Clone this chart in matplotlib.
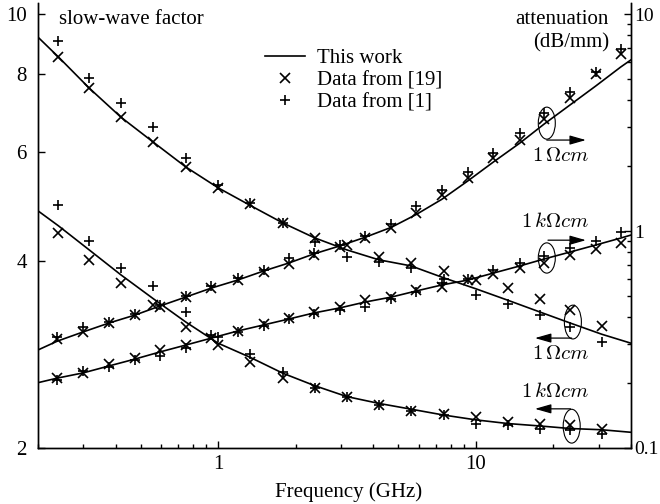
import matplotlib.pyplot as plt
from matplotlib.patches import Ellipse
from matplotlib.ticker import NullLocator

plt.rcParams['font.family'] = 'serif'
plt.rcParams['font.serif'] = ['Liberation Serif', 'DejaVu Serif']
plt.rcParams['mathtext.fontset'] = 'cm'
plt.rcParams['font.size'] = 15

# slow-wave factor (left axis) -- frequencies in GHz
sw_freq = [0.24, 0.316, 0.42, 0.56, 0.75, 1.0, 1.33, 1.78, 2.37, 3.16, 4.2, 5.6,
           7.5, 10.0, 13.3, 17.8, 23.2, 30.8]
sw_1ohm_ref19 = [8.53, 7.60, 6.82, 6.22, 5.67, 5.25, 4.94, 4.60, 4.36, 4.24, 4.06, 3.97,
                 3.86, 3.73, 3.62, 3.48, 3.34, 3.15]
sw_1ohm_ref1 = [9.04, 7.89, 7.19, 6.57, 5.86, 5.30, 4.96, 4.61, 4.29, 4.06, 3.99, 3.90,
                3.75, 3.53, 3.41, 3.27, 3.13, 2.96]
sw_1k_ref19 = [4.44, 4.01, 3.69, 3.40, 3.13, 2.93, 2.75, 2.59, 2.50, 2.42, 2.35, 2.29,
               2.27, 2.24, 2.20, 2.19, 2.18, 2.15]
sw_1k_ref1 = [4.92, 4.31, 3.90, 3.65, 3.31, 3.02, 2.83, 2.65, 2.50, 2.42, 2.35, 2.29,
              2.26, 2.19, 2.18, 2.15, 2.14, 2.11]

sw_fit_freq = [0.2, 0.24, 0.316, 0.42, 0.56, 0.75, 1.0, 1.33, 1.78, 2.37, 3.16, 4.2,
               5.6, 7.5, 10.0, 13.3, 17.8, 23.2, 30.8, 40.0]
sw_1ohm_fit = [9.18, 8.53, 7.60, 6.82, 6.22, 5.67, 5.25, 4.92, 4.61, 4.36, 4.17, 4.02,
               3.93, 3.76, 3.61, 3.46, 3.31, 3.18, 3.05, 2.95]
sw_1k_fit = [4.82, 4.56, 4.17, 3.80, 3.48, 3.19, 2.95, 2.80, 2.64, 2.52, 2.42, 2.36,
             2.31, 2.26, 2.22, 2.19, 2.17, 2.15, 2.14, 2.12]

# attenuation in dB/mm (right axis)
att_freq = [0.238, 0.300, 0.378, 0.476, 0.594, 0.748, 0.942, 1.19, 1.50, 1.88, 2.35,
            2.96, 3.73, 4.70, 5.86, 7.38, 9.30, 11.7, 14.8, 18.4, 23.2, 29.2, 36.5]
att_1ohm_ref19 = [0.318, 0.342, 0.377, 0.410, 0.446, 0.496, 0.546, 0.594, 0.647, 0.705,
                  0.775, 0.844, 0.929, 1.03, 1.21, 1.47, 1.75, 2.17, 2.63, 3.28, 4.10,
                  5.29, 6.54]
att_1ohm_ref1 = [0.325, 0.361, 0.381, 0.414, 0.456, 0.502, 0.558, 0.607, 0.661, 0.751,
                 0.792, 0.862, 0.948, 1.08, 1.30, 1.55, 1.87, 2.29, 2.83, 3.50, 4.37,
                 5.40, 6.90]
att_1k_ref19 = [0.210, 0.222, 0.244, 0.260, 0.283, 0.298, 0.321, 0.346, 0.373, 0.397,
                0.423, 0.446, 0.481, 0.496, 0.534, 0.552, 0.594, 0.634, 0.675, 0.712,
                0.775, 0.826, 0.881]
att_1k_ref1 = [0.206, 0.227, 0.237, 0.254, 0.265, 0.289, 0.332, 0.343, 0.365, 0.393,
               0.414, 0.432, 0.446, 0.486, 0.524, 0.576, 0.601, 0.661, 0.712, 0.767,
               0.835, 0.899, 0.989]

att_fit_freq = [0.2] + att_freq + [40.0]
att_1ohm_fit = [0.283, 0.311, 0.343, 0.377, 0.410, 0.451, 0.496, 0.546, 0.594, 0.654,
                0.712, 0.784, 0.853, 0.937, 1.04, 1.19, 1.40, 1.70, 2.08, 2.54, 3.11,
                3.81, 4.66, 5.70, 6.15]
att_1k_fit = [0.200, 0.210, 0.222, 0.239, 0.257, 0.277, 0.298, 0.321, 0.346, 0.369,
              0.393, 0.419, 0.442, 0.471, 0.496, 0.529, 0.564, 0.594, 0.640, 0.690,
              0.743, 0.800, 0.862, 0.928, 0.958]

fig = plt.figure(figsize=(6.6, 5.04), dpi=100)
ax = fig.add_axes([38/660, 56/504, 593/660, 445/504])
ax2 = ax.twinx()

mk = dict(ls='none', color='k', ms=7, mew=1.2)
ln = dict(color='k', lw=1.2)

ax.plot(sw_fit_freq, sw_1ohm_fit, label='This work', **ln)
ax.plot(sw_fit_freq, sw_1k_fit, **ln)
ax.plot(sw_freq, sw_1ohm_ref19, marker='x', label='Data from [19]', **mk)
ax.plot(sw_freq, sw_1ohm_ref1, marker='+', label='Data from [1]', **mk)
ax.plot(sw_freq, sw_1k_ref19, marker='x', **mk)
ax.plot(sw_freq, sw_1k_ref1, marker='+', **mk)

ax2.plot(att_fit_freq, att_1ohm_fit, **ln)
ax2.plot(att_fit_freq, att_1k_fit, **ln)
ax2.plot(att_freq, att_1ohm_ref19, marker='x', **mk)
ax2.plot(att_freq, att_1ohm_ref1, marker='+', **mk)
ax2.plot(att_freq, att_1k_ref19, marker='x', **mk)
ax2.plot(att_freq, att_1k_ref1, marker='+', **mk)

ax.set_xscale('log')
ax.set_yscale('log')
ax2.set_yscale('log')
ax.set_xlim(0.2, 40)
ax.set_ylim(2, 10.42)
ax2.set_ylim(0.1, 11.24)

ax.set_xticks([1, 10], labels=['1', '10'])
ax.set_yticks([2, 4, 6, 8, 10], labels=['2', '4', '6', '8', '10'])
ax.yaxis.set_minor_locator(NullLocator())
ax2.set_yticks([0.1, 1, 10], labels=['0.1', '1', '10'])

ax.tick_params(which='both', direction='in', top=False, right=False, width=1)
ax.tick_params(axis='y', which='major', length=5, pad=8)
ax.tick_params(axis='x', which='major', length=5, pad=5)
ax.tick_params(axis='x', which='minor', length=3)
ax2.tick_params(which='both', direction='in', width=1, pad=2, labelsize=14)
ax2.tick_params(which='major', length=5)
ax2.tick_params(which='minor', length=3)

for a in (ax, ax2):
    a.spines['top'].set_visible(False)
    for s in ('left', 'right', 'bottom'):
        a.spines[s].set_linewidth(1.0)

ax.set_xlabel('Frequency (GHz)')
ax.xaxis.set_label_coords(0.524, -0.078)

ax.text(0.035, 0.962, 'slow-wave factor', transform=ax.transAxes, ha='left', va='center')
ax.text(0.963, 0.962, 'attenuation', transform=ax.transAxes, ha='right', va='center')
ax.text(0.963, 0.911, '(dB/mm)', transform=ax.transAxes, ha='right', va='center')

ax.legend(loc='upper left', bbox_to_anchor=(0.383, 0.897), frameon=False,
          borderpad=0, borderaxespad=0, handlelength=1.9, handletextpad=0.6,
          labelspacing=0.12, fontsize=15)

# ellipses, arrows and resistivity labels (axes fraction)
notes = [
    ((0.858, 0.730), 0.072, (0.858, 0.692), (0.924, 0.692), (0.882, 0.654), r'$1\,\Omega cm$'),
    ((0.858, 0.427), 0.068, (0.860, 0.467), (0.924, 0.467), (0.872, 0.506), r'$1\,k\Omega cm$'),
    ((0.902, 0.283), 0.076, (0.900, 0.247), (0.838, 0.247), (0.882, 0.209), r'$1\,\Omega cm$'),
    ((0.900, 0.049), 0.076, (0.898, 0.088), (0.838, 0.088), (0.872, 0.124), r'$1\,k\Omega cm$'),
]
for c, h, a0, a1, tpos, txt in notes:
    ax2.add_patch(Ellipse(c, 0.0287, h, transform=ax.transAxes, fill=False,
                          ec='k', lw=0.8))
    ax2.annotate('', xy=a1, xytext=a0, xycoords='axes fraction',
                 arrowprops=dict(arrowstyle='-|>,head_length=0.7,head_width=0.2',
                                 color='k', lw=0.9, mutation_scale=14,
                                 shrinkA=0, shrinkB=0))
    ax2.text(tpos[0], tpos[1], txt, transform=ax.transAxes, ha='center',
             va='center', fontsize=15)

fig.savefig('out.png', dpi=100)
